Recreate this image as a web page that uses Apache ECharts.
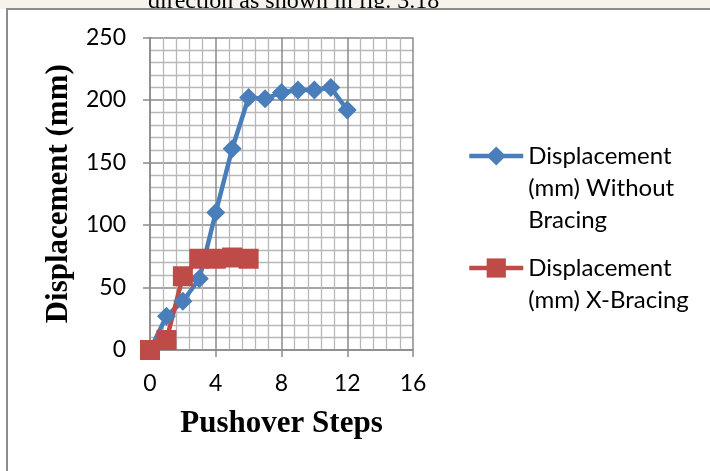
<!DOCTYPE html>
<html>
<head>
<meta charset="utf-8">
<script src="https://cdn.jsdelivr.net/npm/echarts@6/dist/echarts.min.js"></script>
<style>
html,body{margin:0;padding:0;background:#fff;}
#c{width:710px;height:471px;}
</style>
</head>
<body>
<div id="c"></div>
<script>
// Data
const steps = [0,1,2,3,4,5,6,7,8,9,10,11,12];
const withoutBracing = [0,27,39,57,110,161,202,201,206,208,208,210,192];
const xBracingSteps = [0,1,2,3,4,5,6];
const xBracing = [0,8,59,73,73,74,73];
const xTicks = [0,4,8,12,16];
const yTicks = [0,50,100,150,200,250];
const seriesNames = ['Displacement (mm) Without Bracing','Displacement (mm) X-Bracing'];
// leading blank lines put the first text line level with the legend icon
const legendLabels = {
  'Displacement (mm) Without Bracing': ' \n \nDisplacement\n(mm) Without\nBracing',
  'Displacement (mm) X-Bracing': ' \nDisplacement\n(mm) X-Bracing'
};

const chart = echarts.init(document.getElementById('c'), null, {renderer:'canvas'});
const major = '#8a8a8a', minor = '#b8b8b8';
const tickFont = {fontFamily:'Lato', fontSize:23, color:'#000'};
const titleFont = {fontFamily:'Liberation Serif', fontWeight:'bold', fontSize:31, color:'#000'};

chart.setOption({
  animation:false,
  backgroundColor:'#fff',
  graphic:[
    {type:'rect', shape:{x:0,y:0,width:710,height:9}, style:{fill:'#f6f2ec'}, silent:true, z:-3},
    {type:'text', x:148, y:14, style:{text:'direction as shown in fig. 3.18', font:'24px "Liberation Serif"', fill:'#000', verticalAlign:'bottom'}, silent:true, z:-2},
    {type:'rect', shape:{x:0,y:10,width:710,height:8}, style:{fill:'#fff'}, silent:true, z:-2},
    {type:'rect', shape:{x:7,y:9,width:800,height:600}, style:{fill:'none', stroke:'#8c8c8c', lineWidth:2}, silent:true, z:-1}
  ],
  grid:{left:150, top:37.5, right:297, bottom:121, containLabel:false},
  legend:{
    orient:'vertical', left:467, top:76, padding:0, itemGap:-16,
    itemWidth:54, itemHeight:24,
    data:seriesNames,
    formatter:(n)=>legendLabels[n],
    lineStyle:{width:4.5},
    textStyle:{fontFamily:'Lato', fontSize:24, color:'#000', lineHeight:32}
  },
  xAxis:{
    type:'value', min:xTicks[0], max:xTicks[xTicks.length-1], interval:4,
    name:'Pushover Steps', nameLocation:'middle', nameGap:58, nameTextStyle:titleFont,
    axisLine:{show:true, lineStyle:{color:major, width:1.5}},
    axisTick:{show:true, length:7, lineStyle:{color:major, width:1.5}},
    axisLabel:{...tickFont, margin:22},
    splitLine:{show:true, lineStyle:{color:major, width:1.5}},
    minorTick:{show:false, splitNumber:5},
    minorSplitLine:{show:true, lineStyle:{color:minor, width:1.3}}
  },
  yAxis:{
    type:'value', min:yTicks[0], max:yTicks[yTicks.length-1], interval:50,
    name:'Displacement (mm)', nameLocation:'middle', nameGap:76, nameTextStyle:titleFont,
    axisLine:{show:true, lineStyle:{color:major, width:1.5}},
    axisTick:{show:true, length:7, lineStyle:{color:major, width:1.5}},
    axisLabel:{...tickFont, margin:24},
    splitLine:{show:true, lineStyle:{color:major, width:1.5}},
    minorTick:{show:false, splitNumber:5},
    minorSplitLine:{show:true, lineStyle:{color:minor, width:1.3}}
  },
  series:[
    {
      name:seriesNames[0], type:'line', clip:false,
      data:steps.map((s,i)=>[s, withoutBracing[i]]),
      symbol:'diamond', symbolSize:19,
      lineStyle:{color:'#4a7ebb', width:4.5},
      itemStyle:{color:'#4a7ebb'}
    },
    {
      name:seriesNames[1], type:'line', clip:false,
      data:xBracingSteps.map((s,i)=>[s, xBracing[i]]),
      symbol:'rect', symbolSize:20,
      lineStyle:{color:'#be4b48', width:4.5},
      itemStyle:{color:'#be4b48'}
    }
  ]
});
</script>
</body>
</html>
